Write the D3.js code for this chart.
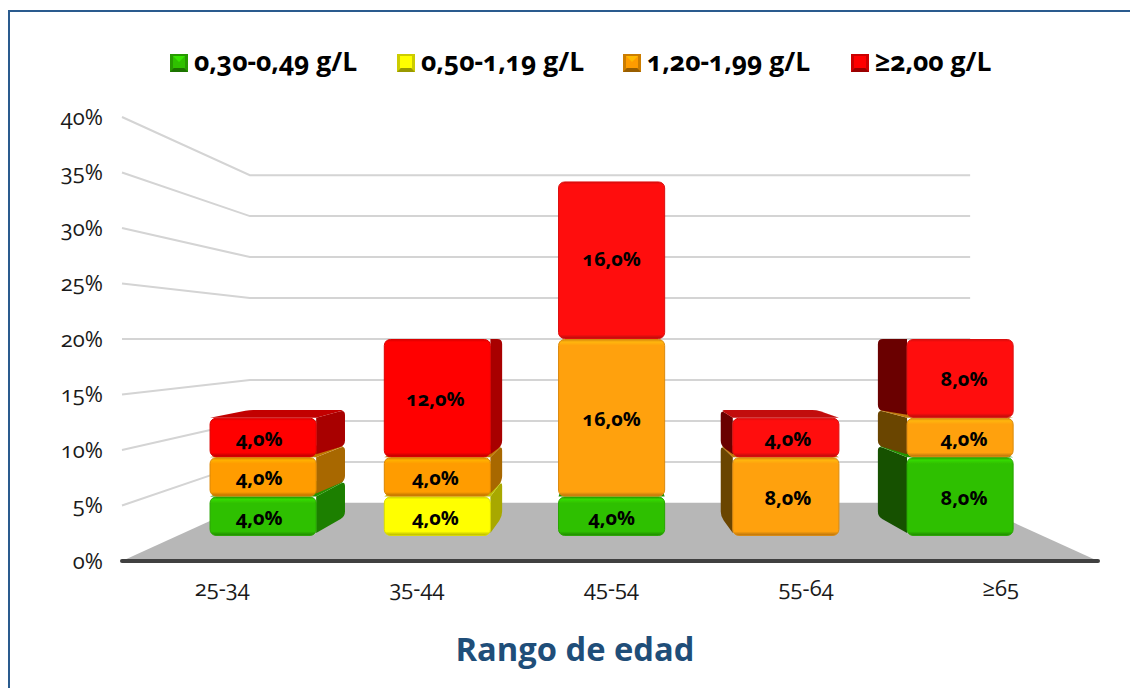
<!DOCTYPE html>
<html>
<head>
<meta charset="utf-8">
<script src="https://cdn.jsdelivr.net/npm/d3@7"></script>
<style>
    html, body { margin: 0; padding: 0; background: #fff; }
    svg { display: block; }
    text { font-family: "Open Sans", Lato, sans-serif; font-feature-settings: "onum" 1, "lnum" 0; fill: #000; }
</style>
</head>
<body>
<div id="chart"></div>
<script>
const categories = ["25-34", "35-44", "45-54", "55-64", "≥65"];
const seriesNames = ["0,30-0,49 g/L", "0,50-1,19 g/L", "1,20-1,99 g/L", "≥2,00 g/L"];
const seriesColors = ["#2fc000", "#ffff00", "#ff9c00", "#ff0000"];
const green = [4, 0, 4, 0, 8];
const yellow = [0, 4, 0, 0, 0];
const orange = [4, 4, 16, 8, 4];
const red = [4, 12, 16, 4, 8];
const yTicks = [0, 5, 10, 15, 20, 25, 30, 35, 40];
const legendX = [170, 397, 623, 851];

const width = 1130, height = 688;
const svg = d3.select("#chart").append("svg").attr("width", width).attr("height", height);
const defs = svg.append("defs");
defs.append("filter").attr("id", "soft").append("feGaussianBlur").attr("stdDeviation", 0.5);

// Frame
svg.append("rect").attr("x", 9).attr("y", 11).attr("width", 1140).attr("height", 700)
    .attr("fill", "none").attr("stroke", "#2a5b8e").attr("stroke-width", 2);

// Scales live on the front plane, proj() pushes them back towards the vanishing point
const y = d3.scaleLinear().domain([0, 40]).range([561, 117]);
const x = d3.scaleBand().domain(categories).range([120.8, 1102.8]).paddingInner(0.391).paddingOuter(0.195);
const xMin = 122, xMax = 1098;
const vpX = 610, vpY = y(20);
const sWall = 0.738, sFront = 0.887, sBack = 0.80, sLabel = 0.897;
const proj = (px, v, s) => [vpX + (px - vpX) * s, vpY + (y(v) - vpY) * s];

// Point at distance r from a, walking towards b
function toward(a, b, r) {
    const d = Math.hypot(b[0] - a[0], b[1] - a[1]);
    const t = Math.min(r / d, 0.5);
    return [a[0] + (b[0] - a[0]) * t, a[1] + (b[1] - a[1]) * t];
}

// Side or top face: back corners rounded. pull moves the first front corner in, for the bottom of a side face
function facePath(f0, b0, b1, f1, r, pull) {
    const a = toward(f0, f1, pull);
    const p = d3.path();
    p.moveTo(...a);
    p.lineTo(...toward(b0, a, r));
    p.quadraticCurveTo(...b0, ...toward(b0, b1, r));
    p.lineTo(...toward(b1, b0, r));
    p.quadraticCurveTo(...b1, ...toward(b1, f1, r));
    p.lineTo(...f1);
    p.closePath();
    return p.toString();
}

// Floor
svg.append("polygon")
    .attr("points", [proj(xMin, 0, 1), proj(xMax, 0, 1), proj(xMax, 0, sWall), proj(xMin, 0, sWall)].join(" "))
    .attr("fill", "#b7b7b7");

// Wall grid lines
const line = d3.line();
svg.append("g").attr("filter", "url(#soft)").selectAll("path")
    .data(yTicks.filter(d => d > 0))
    .join("path")
    .attr("d", d => line([proj(xMin, d, 1), proj(xMin, d, sWall), proj(xMax, d, sWall)]))
    .attr("fill", "none").attr("stroke", "#d4d4d4").attr("stroke-width", 2);

// Axes
const yAxis = svg.append("g").attr("transform", "translate(122,0)")
    .call(d3.axisLeft(y).tickValues(yTicks).tickFormat(d => d + "%").tickSize(0).tickPadding(19));
yAxis.select(".domain").remove();
yAxis.selectAll("text").attr("font-size", 22).attr("font-family", null).style("fill", "#1a1a1a");

const xAxis = svg.append("g").attr("transform", "translate(0,561)")
    .call(d3.axisBottom(d3.scaleBand().domain(categories).range([125, 1098])).tickSize(0).tickPadding(19));
xAxis.select(".domain").remove();
xAxis.selectAll("text").attr("font-size", 22).attr("font-family", null).style("fill", "#1a1a1a");

svg.append("line").attr("x1", xMin).attr("x2", xMax).attr("y1", 561).attr("y2", 561)
    .attr("stroke", "#404040").attr("stroke-width", 4).attr("stroke-linecap", "round");

// Stack the series
const stackData = categories.map((c, i) => ({ cat: c, g: green[i], y: yellow[i], o: orange[i], r: red[i] }));
const keys = ["g", "y", "o", "r"];
const stacked = d3.stack().keys(keys)(stackData);
const segments = [];
stacked.forEach((layer, k) => layer.forEach((d, i) => {
    if (d[1] > d[0]) segments.push({ cat: categories[i], k: k, v0: d[0], v1: d[1], id: "seg" + segments.length });
}));

const bars = svg.append("g").attr("filter", "url(#soft)");
segments.forEach(d => {
    const x0 = x(d.cat), x1 = x0 + x.bandwidth();
    // red and orange catch a little more light on the right hand bars
    const base = d3.interpolateRgb(seriesColors[d.k], "#fff")(x1 > vpX && d.k >= 2 ? 0.05 : 0);
    const g = bars.append("g");
    const dark = t => d3.interpolateRgb(base, "#000")(t);
    // side face towards the centre
    const sideX = x1 < vpX ? x1 : (x0 > vpX ? x0 : null);
    if (sideX !== null) {
        g.append("path")
            .attr("d", facePath(proj(sideX, d.v0, sFront), proj(sideX, d.v0, sBack),
                proj(sideX, d.v1, sBack), proj(sideX, d.v1, sFront), 5, 3))
            .attr("fill", dark(sideX === x1 ? 0.34 : 0.58));
    }
    // top face, only below eye level
    if (d.v1 < 20) {
        g.append("path")
            .attr("d", facePath(proj(x0, d.v1, sFront), proj(x0, d.v1, sBack),
                proj(x1, d.v1, sBack), proj(x1, d.v1, sFront), 4, 0))
            .attr("fill", dark(0.24));
    }
    // front face with a bevel gradient
    const [fx0, fyTop] = proj(x0, d.v1, sFront);
    const [fx1, fyBot] = proj(x1, d.v0, sFront);
    const h = fyBot - fyTop - 1;
    const stops = [
        [0, dark(0.15)],
        [2.5 / h, d3.color(base).brighter(0.35).formatHex()],
        [6 / h, base],
        [(h - 4) / h, base],
        [1, dark(0.3)]
    ];
    defs.append("linearGradient").attr("id", d.id).attr("x1", 0).attr("x2", 0).attr("y1", 0).attr("y2", 1)
        .selectAll("stop").data(stops).join("stop")
        .attr("offset", s => s[0]).attr("stop-color", s => s[1]);
    g.append("rect").attr("x", fx0).attr("y", fyTop + 0.5).attr("width", fx1 - fx0).attr("height", h)
        .attr("rx", 6).attr("fill", `url(#${d.id})`)
        .attr("stroke", dark(0.14)).attr("stroke-width", 1);
});

// Data labels
svg.append("g").selectAll("text")
    .data(segments)
    .join("text")
    .attr("x", d => proj(x(d.cat) + x.bandwidth() / 2, 0, sLabel)[0])
    .attr("y", d => proj(0, (d.v0 + d.v1) / 2, sLabel)[1] + 7)
    .attr("text-anchor", "middle")
    .attr("font-size", 20).attr("font-weight", 700)
    .text(d => (d.v1 - d.v0).toFixed(1).replace(".", ",") + "%");

// Legend
const legend = svg.append("g").selectAll("g")
    .data(seriesNames)
    .join("g")
    .attr("transform", (d, i) => `translate(${legendX[i]},54)`);
legend.append("rect").attr("width", 18).attr("height", 18)
    .attr("fill", (d, i) => d3.interpolateRgb(seriesColors[i], "#000")(0.2));
legend.append("polygon").attr("points", "0,18 18,18 14,14 4,14")
    .attr("fill", (d, i) => d3.interpolateRgb(seriesColors[i], "#000")(0.4));
legend.append("rect").attr("x", 3).attr("y", 2).attr("width", 12).attr("height", 12)
    .attr("fill", (d, i) => seriesColors[i]);
legend.append("polygon").attr("points", "3,2 15,2 9,8")
    .attr("fill", (d, i) => d3.color(seriesColors[i]).brighter(0.5).formatHex());
legend.append("text").attr("x", 24).attr("y", 17)
    .attr("font-size", 26.5).attr("font-weight", 700)
    .text(d => d);

// Axis title
svg.append("text").attr("x", 575).attr("y", 661).attr("text-anchor", "middle")
    .attr("font-size", 32.7).attr("font-weight", 700).style("fill", "#1f4e79")
    .style("font-feature-settings", "normal")
    .text("Rango de edad");
</script>
</body>
</html>
